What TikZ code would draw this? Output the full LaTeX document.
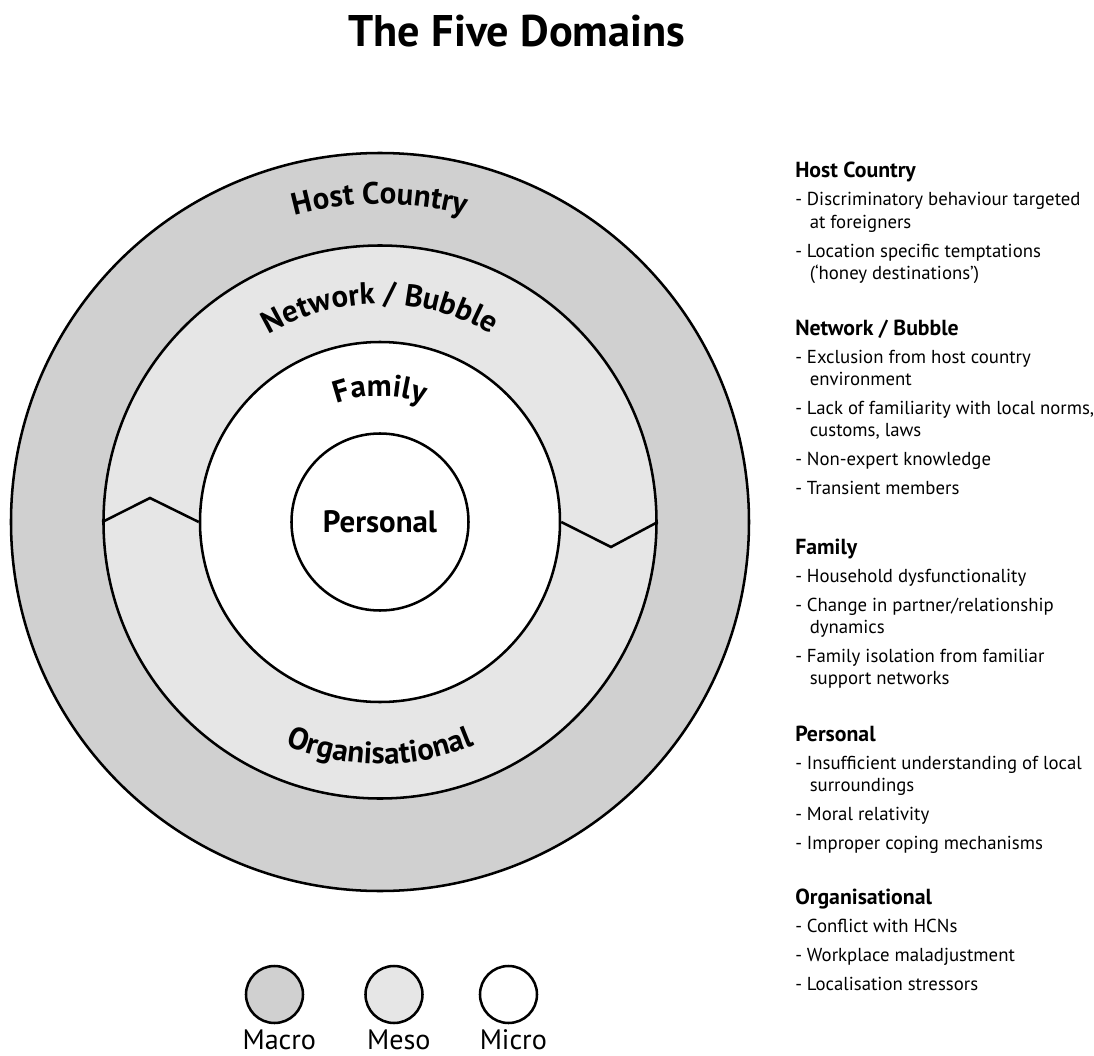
\documentclass[tikz,border=0pt]{standalone}
\usepackage{fontspec}
\setmainfont{PT Sans}
\usepackage{tikz}
\usetikzlibrary{positioning,decorations.text}

\definecolor{macrogray}{HTML}{D0D0D0}
\definecolor{mesogray}{HTML}{E6E6E6}

\newcommand{\titlefont}{\bfseries\fontsize{31.5}{36}\selectfont}
\newcommand{\ringfont}{\bfseries\fontsize{22}{26}\selectfont}
\newcommand{\headfont}{\bfseries\fontsize{15.5}{18}\selectfont}
\newcommand{\listfont}{\fontsize{13.35}{15.65}\selectfont}
\newcommand{\keyfont}{\fontsize{20}{24}\selectfont}

\tikzset{
	ring/.style={circle, draw=black, line width=1.8pt, inner sep=0pt},
	kink/.style={draw=black, line width=1.8pt},
	ringlabel/.style={decorate, decoration={text along path, text align=center, text={|\ringfont|#1}}},
	heading/.style={anchor=base west, inner sep=0pt, font=\headfont},
	itemlist/.style={anchor=base west, inner sep=0pt, font=\listfont},
	keydot/.style={circle, draw=black, line width=1.8pt, minimum size=1.425cm, inner sep=0pt},
	keylabel/.style={anchor=base, inner sep=0pt, font=\keyfont, xshift=0.12cm}
}

\begin{document}
\begin{tikzpicture}
	\useasboundingbox (-9.5,-13.35) rectangle (17.85,13.05);

	\node[anchor=base, font=\titlefont] (title) at (3.425,11.875) {The Five Domains};

	% rings, outside in
	\node[ring, fill=macrogray, minimum size=18.45cm] (host) at (0,0) {};
	\node[ring, fill=mesogray, minimum size=13.825cm] (meso) at (0,0) {};
	\node[ring, fill=white, minimum size=9cm] (family) at (0,0) {};
	\node[ring, fill=white, minimum size=4.425cm, font=\ringfont] (personal) at (0,0) {Personal};

	% split between network and organisation
	\coordinate (kinkl) at (-5.75,0.6);
	\coordinate (kinkr) at (5.775,-0.625);
	\draw[kink] (meso.west) -- (kinkl) -- (family.west);
	\draw[kink] (family.east) -- (kinkr) -- (meso.east);

	% curved labels
	\path[ringlabel=Host Country] (180:7.95) arc[start angle=180, end angle=0, radius=7.95];
	\path[ringlabel=Network / Bubble] (180:5.45) arc[start angle=180, end angle=0, radius=5.45];
	\path[ringlabel=Family] (180:3.15) arc[start angle=180, end angle=0, radius=3.15];
	\path[ringlabel=Organisational] (180:6.05) arc[start angle=180, end angle=360, radius=6.05];

	% key
	\node[keydot, fill=macrogray] (macrokey) at (-2.6375,-11.8125) {};
	\node[keydot, fill=mesogray] (mesokey) at (0.35,-11.8125) {};
	\node[keydot, fill=white] (microkey) at (3.2125,-11.8125) {};
	\node[keylabel, below=0.62cm of macrokey.south, anchor=base] (macrolab) {Macro};
	\node[keylabel, below=0.62cm of mesokey.south, anchor=base] (mesolab) {Meso};
	\node[keylabel, below=0.62cm of microkey.south, anchor=base] (microlab) {Micro};

	% risk factors per domain
	\node[heading] (hchead) at (10.375,8.6) {Host Country};
	\node[itemlist, below=0.7cm of hchead.base west, anchor=base west] (hclist) {%
		\begin{tabular}[t]{@{}l@{\hspace{3.5pt}}l@{}}
			- & Discriminatory behaviour targeted\\
			  & \hspace{2pt}at foreigners\\[5pt]
			- & Location specific temptations\\
			  & \hspace{2pt}(`honey destinations')
		\end{tabular}};

	\node[heading] (nbhead) at (10.375,4.675) {Network / Bubble};
	\node[itemlist, below=0.7cm of nbhead.base west, anchor=base west] (nblist) {%
		\begin{tabular}[t]{@{}l@{\hspace{3.5pt}}l@{}}
			- & Exclusion from host country\\
			  & \hspace{2pt}environment\\[5pt]
			- & Lack of familiarity with local norms,\\
			  & \hspace{2pt}customs, laws\\[5pt]
			- & Non-expert knowledge\\[5pt]
			- & Transient members
		\end{tabular}};

	\node[heading] (fmhead) at (10.375,-0.8) {Family};
	\node[itemlist, below=0.7cm of fmhead.base west, anchor=base west] (fmlist) {%
		\begin{tabular}[t]{@{}l@{\hspace{3.5pt}}l@{}}
			- & Household dysfunctionality\\[5pt]
			- & Change in partner/relationship\\
			  & \hspace{2pt}dynamics\\[5pt]
			- & Family isolation from familiar\\
			  & \hspace{2pt}support networks
		\end{tabular}};

	\node[heading] (pshead) at (10.375,-5.475) {Personal};
	\node[itemlist, below=0.7cm of pshead.base west, anchor=base west] (pslist) {%
		\begin{tabular}[t]{@{}l@{\hspace{3.5pt}}l@{}}
			- & Insufficient understanding of local\\
			  & \hspace{2pt}surroundings\\[5pt]
			- & Moral relativity\\[5pt]
			- & Improper coping mechanisms
		\end{tabular}};

	\node[heading] (orhead) at (10.375,-9.55) {Organisational};
	\node[itemlist, below=0.7cm of orhead.base west, anchor=base west] (orlist) {%
		\begin{tabular}[t]{@{}l@{\hspace{3.5pt}}l@{}}
			- & Conflict with HCNs\\[5pt]
			- & Workplace maladjustment\\[5pt]
			- & Localisation stressors
		\end{tabular}};
\end{tikzpicture}
\end{document}
